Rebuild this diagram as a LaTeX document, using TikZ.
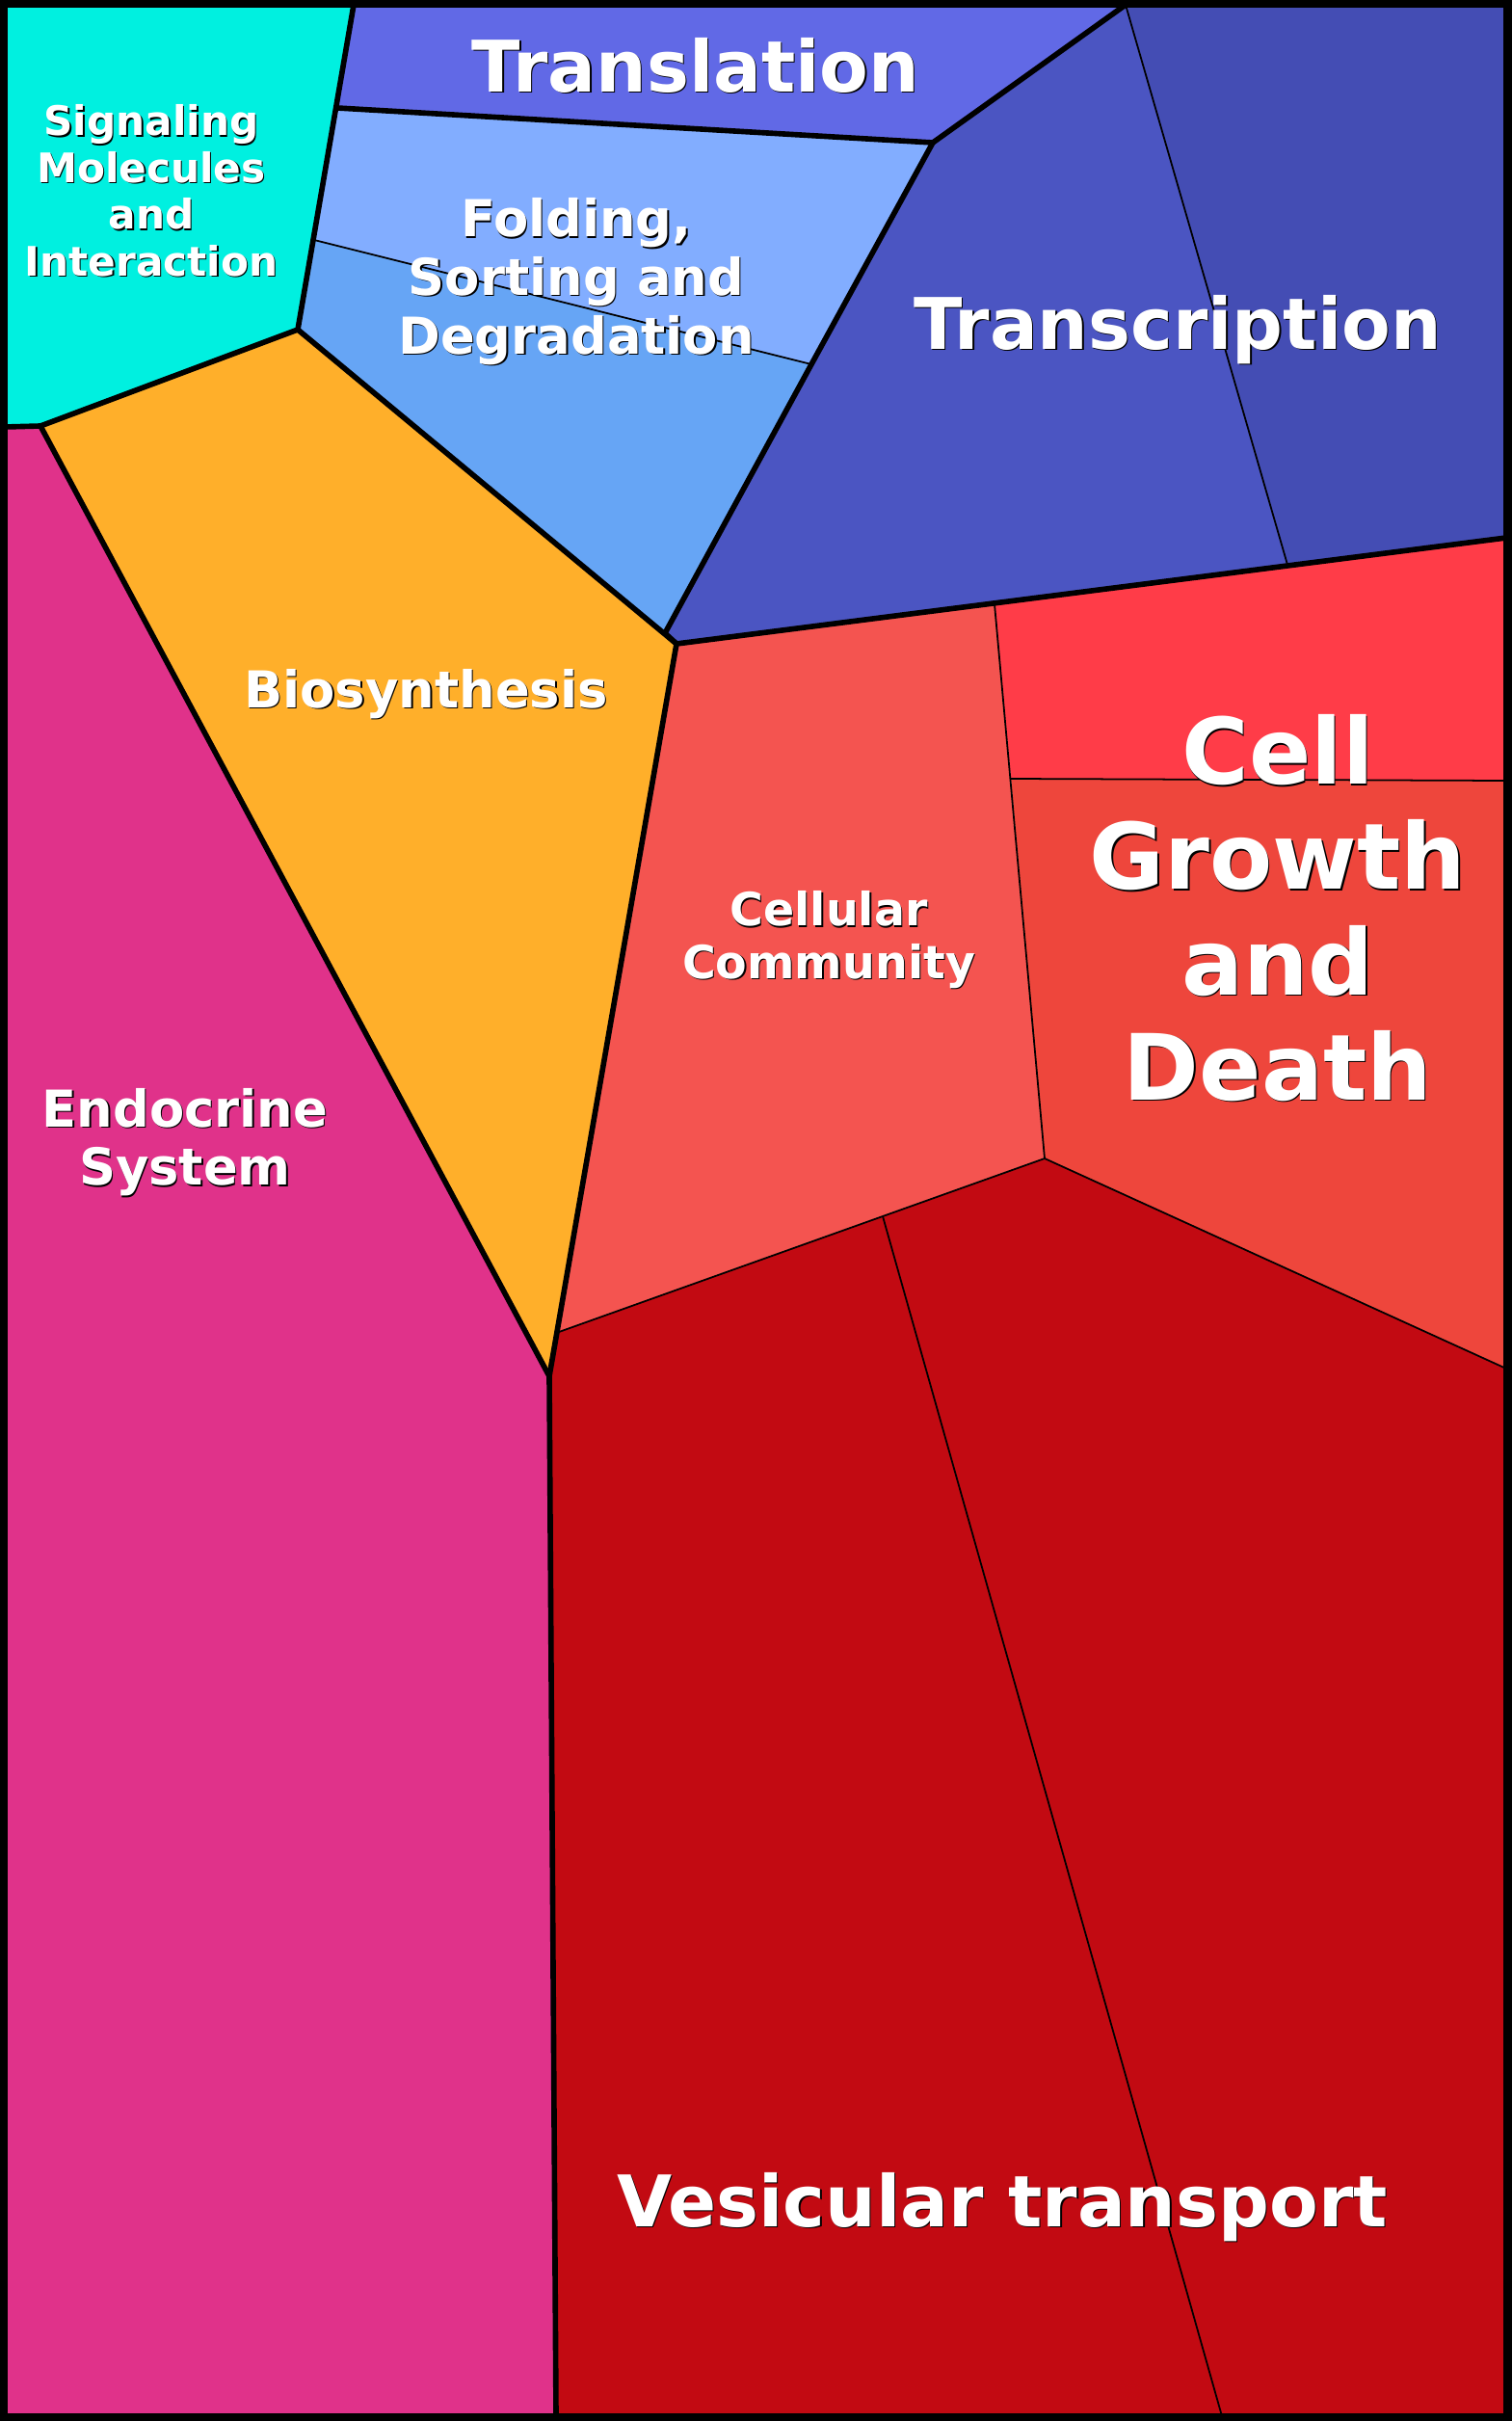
\documentclass[tikz,border=0pt]{standalone}
\usepackage{fontspec}
\setmainfont{DejaVu Sans}
\definecolor{cSig}{HTML}{00F0E0}
\definecolor{cTransl}{HTML}{6169E6}
\definecolor{cFoldA}{HTML}{82ADFF}
\definecolor{cFoldB}{HTML}{66A5F5}
\definecolor{cTrscA}{HTML}{4B55C2}
\definecolor{cTrscB}{HTML}{444DB4}
\definecolor{cBio}{HTML}{FFAF2A}
\definecolor{cEndo}{HTML}{E0328A}
\definecolor{cComm}{HTML}{F45450}
\definecolor{cGrowA}{HTML}{FF3C48}
\definecolor{cGrowB}{HTML}{EE463C}
\definecolor{cVes}{HTML}{C20A12}
% white label with a thin dark shadow
\newcommand{\celllabel}[4]{%
  \node[lbl, text=black, font=\bfseries\fontsize{#3}{1.15\dimexpr#3pt\relax}\selectfont] at ([xshift=0.4pt,yshift=-0.4pt]#2) {#4};
  \node[lbl, font=\bfseries\fontsize{#3}{1.15\dimexpr#3pt\relax}\selectfont] (#1) at (#2) {#4};}
\begin{document}
\begin{tikzpicture}[x=0.01cm, y=-0.01cm, line join=round,
  thin line/.style={draw=black, line width=0.5pt},
  thick line/.style={draw=black, line width=1.6pt},
  lbl/.style={text=white, align=center, inner sep=0pt}]
        \useasboundingbox (0,0) rectangle (1568,2512);
        % cells
        \fill[cSig] (5,5) -- (367,5) -- (309,342) -- (42,442) -- (5,443) -- cycle;
        \fill[cTransl] (367,5) -- (1168,5) -- (968,148) -- (350,112) -- cycle;
        \fill[cFoldA] (350,112) -- (968,148) -- (842,378) -- (326,249) -- cycle;
        \fill[cFoldB] (326,249) -- (842,378) -- (690,657) -- (309,342) -- cycle;
        \fill[cTrscA] (968,148) -- (1168,5) -- (1336,586) -- (702,668) -- (690,657) -- cycle;
        \fill[cTrscB] (1168,5) -- (1563,5) -- (1563,558) -- (1336,586) -- cycle;
        \fill[cBio] (42,442) -- (309,342) -- (702,668) -- (570,1428) -- cycle;
        \fill[cEndo] (5,443) -- (42,442) -- (570,1428) -- (577,2507) -- (5,2507) -- cycle;
        \fill[cComm] (702,668) -- (1032,627) -- (1084,1202) -- (580,1382) -- cycle;
        \fill[cGrowA] (1032,627) -- (1563,558) -- (1563,810) -- (1049,808) -- cycle;
        \fill[cGrowB] (1049,808) -- (1563,810) -- (1563,1420) -- (1084,1202) -- cycle;
        \fill[cVes] (580,1382) -- (1084,1202) -- (1563,1420) -- (1563,2507) -- (577,2507) -- (570,1428) -- cycle;

        % inner borders
        \draw[thin line] (326,249) -- (842,378);
        \draw[thin line] (1168,5) -- (1336,586);
        \draw[thin line] (1049,808) -- (1563,810);
        \draw[thin line] (916,1262) -- (1268,2507);
        \draw[thin line] (1032,627) -- (1084,1202) -- (1563,1420);
        \draw[thin line] (580,1382) -- (1084,1202);

        % group borders
        \draw[thick line] (367,5) -- (309,342) -- (42,442) -- (5,443);
        \draw[thick line] (350,112) -- (968,148) -- (1168,5);
        \draw[thick line] (968,148) -- (842,378) -- (690,657);
        \draw[thick line] (309,342) -- (702,668) -- (570,1428) -- (577,2507);
        \draw[thick line] (42,442) -- (570,1428);
        \draw[thick line] (690,657) -- (702,668) -- (1563,558);
        \draw[line width=3pt] (3,3) rectangle (1565,2509);

        % labels
        \celllabel{sig}{157,198}{12}{Signaling\\Molecules\\and\\Interaction}
        \celllabel{transl}{722,68}{21}{Translation}
        \celllabel{fold}{598,292}{15}{Folding,\\Sorting and\\Degradation}
        \celllabel{trsc}{1222,342}{21}{Transcription}
        \celllabel{bio}{442,720}{15}{Biosynthesis}
        \celllabel{comm}{860,975}{13.5}{Cellular\\Community}
        \celllabel{grow}{1326,942}{27}{Cell\\Growth\\and\\Death}
        \celllabel{endo}{192,1185}{15}{Endocrine\\System}
        \celllabel{ves}{1040,2290}{21}{Vesicular transport}
\end{tikzpicture}
\end{document}
